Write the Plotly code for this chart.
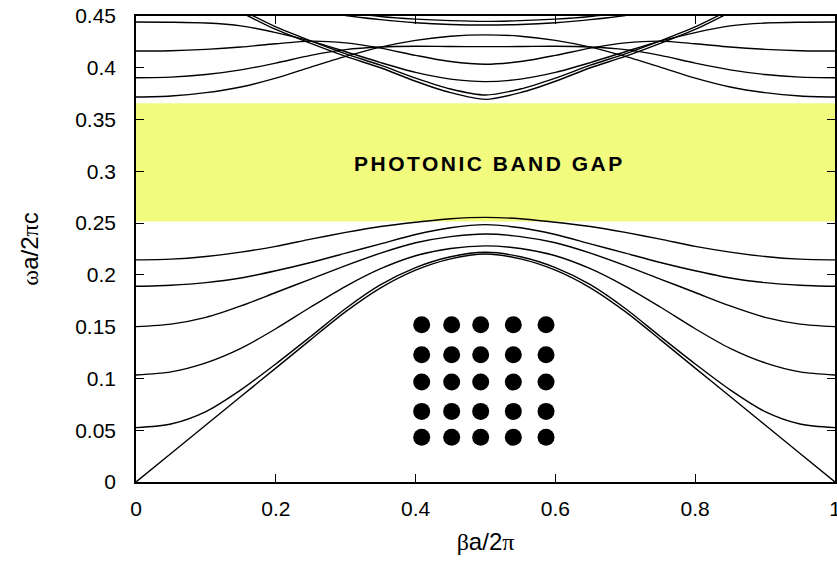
import plotly.graph_objects as go

# wave vector samples (beta a / 2pi)
beta = [0.0, 0.05, 0.1, 0.15, 0.2, 0.25, 0.3, 0.35, 0.4, 0.45, 0.5,
        0.55, 0.6, 0.65, 0.7, 0.75, 0.8, 0.85, 0.9, 0.95, 1.0]

# lower (below the gap) bands, omega a / 2pi c
band_1 = [0.0, 0.0275, 0.055, 0.0825, 0.110, 0.1375, 0.1645, 0.1875, 0.2046, 0.2155, 0.2201,
          0.2155, 0.2046, 0.1875, 0.1645, 0.1375, 0.110, 0.0825, 0.055, 0.0275, 0.0]
band_2 = [0.0525, 0.056, 0.068, 0.089, 0.114, 0.1405, 0.1675, 0.1905, 0.207, 0.2175, 0.2218,
          0.2175, 0.207, 0.1905, 0.1675, 0.1405, 0.114, 0.089, 0.068, 0.056, 0.0525]
band_3 = [0.1033, 0.1063, 0.115, 0.129, 0.148, 0.169, 0.189, 0.206, 0.2185, 0.2255, 0.228,
          0.2255, 0.2185, 0.206, 0.189, 0.169, 0.148, 0.129, 0.115, 0.1063, 0.1033]
band_4 = [0.150, 0.1525, 0.159, 0.170, 0.183, 0.196, 0.209, 0.221, 0.231, 0.237, 0.2395,
          0.237, 0.231, 0.221, 0.209, 0.196, 0.183, 0.170, 0.159, 0.1525, 0.150]
band_5 = [0.189, 0.190, 0.1925, 0.197, 0.204, 0.212, 0.221, 0.230, 0.239, 0.2455, 0.2485,
          0.2455, 0.239, 0.230, 0.221, 0.212, 0.204, 0.197, 0.1925, 0.190, 0.189]
band_6 = [0.2145, 0.2152, 0.2178, 0.222, 0.2275, 0.2345, 0.241, 0.2467, 0.2508, 0.2542, 0.2555,
          0.2542, 0.2508, 0.2467, 0.241, 0.2345, 0.2275, 0.222, 0.2178, 0.2152, 0.2145]

# upper (above the gap) bands
band_u1 = [0.500, 0.486, 0.470, 0.4535, 0.437, 0.4235, 0.411, 0.400, 0.387, 0.376, 0.3695,
           0.376, 0.387, 0.400, 0.411, 0.4235, 0.437, 0.4535, 0.470, 0.486, 0.500]
band_u2 = [0.502, 0.488, 0.472, 0.456, 0.4395, 0.426, 0.4135, 0.4025, 0.390, 0.3795, 0.3737,
           0.3795, 0.390, 0.4025, 0.4135, 0.426, 0.4395, 0.456, 0.472, 0.488, 0.502]
band_a = [0.4442, 0.4440, 0.4432, 0.4405, 0.434, 0.4257, 0.4155, 0.405, 0.3955, 0.389, 0.3866,
          0.389, 0.3955, 0.405, 0.4155, 0.4257, 0.434, 0.4405, 0.4432, 0.4440, 0.4442]
band_b = [0.4162, 0.4165, 0.4178, 0.420, 0.4232, 0.4257, 0.424, 0.419, 0.412, 0.406, 0.4034,
          0.406, 0.412, 0.419, 0.424, 0.4257, 0.4232, 0.420, 0.4178, 0.4165, 0.4162]
band_c = [0.3904, 0.391, 0.3935, 0.398, 0.4045, 0.412, 0.4175, 0.420, 0.4208, 0.4205, 0.4204,
          0.4205, 0.4208, 0.420, 0.4175, 0.412, 0.4045, 0.398, 0.3935, 0.391, 0.3904]
band_d = [0.3718, 0.3728, 0.376, 0.3815, 0.390, 0.4007, 0.411, 0.420, 0.4265, 0.4305, 0.4318,
          0.4305, 0.4265, 0.420, 0.411, 0.4007, 0.390, 0.3815, 0.376, 0.3728, 0.3718]
band_e1 = [0.500, 0.492, 0.483, 0.474, 0.465, 0.457, 0.4505, 0.4465, 0.4435, 0.4418, 0.4413,
           0.4418, 0.4435, 0.4465, 0.4505, 0.457, 0.465, 0.474, 0.483, 0.492, 0.500]
band_e0 = [0.505, 0.497, 0.488, 0.479, 0.470, 0.462, 0.454, 0.4495, 0.447, 0.4455, 0.4448,
           0.4455, 0.447, 0.4495, 0.454, 0.462, 0.470, 0.479, 0.488, 0.497, 0.505]

bands = [band_1, band_2, band_3, band_4, band_5, band_6,
         band_u1, band_u2, band_a, band_b, band_c, band_d, band_e1, band_e0]

# photonic band gap limits
gap_low = 0.2515
gap_high = 0.3657

# inset lattice of rods (5 x 5)
dot_cols = [0.4087, 0.4516, 0.4931, 0.5398, 0.5866]
dot_rows = [0.1519, 0.1229, 0.0965, 0.0682, 0.0432]

x_ticks = [0, 0.2, 0.4, 0.6, 0.8, 1]
x_tick_text = ["0", "0.2", "0.4", "0.6", "0.8", "1"]
y_ticks = [0, 0.05, 0.1, 0.15, 0.2, 0.25, 0.3, 0.35, 0.4, 0.45]
y_tick_text = ["0", "0.05", "0.1", "0.15", "0.2", "0.25", "0.3", "0.35", "0.4", "0.45"]

SANS = "Liberation Sans, Arial, Helvetica, sans-serif"
GREEK = "font-family:'Liberation Serif', serif"

fig = go.Figure()

fig.add_shape(type="rect", xref="x", yref="y", x0=0, x1=1, y0=gap_low, y1=gap_high,
              fillcolor="#f2fb7e", line=dict(width=0), layer="below")

for b in bands:
    fig.add_trace(go.Scatter(x=beta, y=b, mode="lines",
                             line=dict(color="black", width=1.4, shape="spline", smoothing=0.8),
                             hoverinfo="skip", showlegend=False))

dx, dy = [], []
for yy in dot_rows:
    for xx in dot_cols:
        dx.append(xx)
        dy.append(yy)
fig.add_trace(go.Scatter(x=dx, y=dy, mode="markers", marker=dict(color="black", size=17, line=dict(width=0)),
                         hoverinfo="skip", showlegend=False))

fig.add_annotation(x=0.505, y=0.308, xref="x", yref="y",
                   text="<span style=\"letter-spacing:2.5px\"><b>PHOTONIC BAND GAP</b></span>",
                   showarrow=False, font=dict(family=SANS, size=21, color="black"))

axis_common = dict(showgrid=False, zeroline=False, showline=True, linecolor="black", linewidth=1.5,
                   mirror="ticks", ticks="inside", ticklen=8, tickcolor="black", tickwidth=1,
                   ticklabeloverflow="allow", automargin=False,
                   tickfont=dict(family=SANS, size=21, color="black"))

x_title = "<span style=\"" + GREEK + "\">β</span>a/2<span style=\"" + GREEK + "\">π</span>"
y_title = "<span style=\"" + GREEK + "\">ω</span>a/2<span style=\"" + GREEK + "\">π</span>c"

fig.update_xaxes(range=[0, 1], tickvals=x_ticks, ticktext=x_tick_text, ticklabelstandoff=7,
                 title=dict(text=x_title, font=dict(family=SANS, size=24, color="black"), standoff=14),
                 **axis_common)
fig.update_yaxes(range=[0, 0.45], tickvals=y_ticks, ticktext=y_tick_text, ticklabelstandoff=14,
                 title=dict(text=y_title, font=dict(family=SANS, size=24, color="black"), standoff=30),
                 **axis_common)

fig.update_layout(width=837, height=561, margin=dict(l=136, r=2, t=16, b=79, autoexpand=False),
                  plot_bgcolor="white", paper_bgcolor="white")

fig.write_html("out.html")
